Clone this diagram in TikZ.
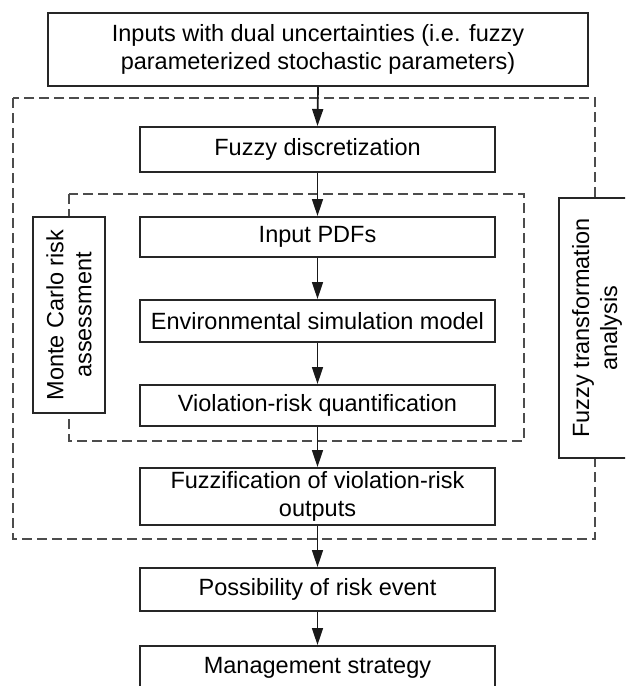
\documentclass[tikz,border=0pt]{standalone}
\usepackage{fontspec}
\setmainfont{Liberation Sans}
\usetikzlibrary{arrows.meta}
\begin{document}
\begin{tikzpicture}[x=1pt,y=-1pt,
  box/.style={draw=black!85,line width=2pt,fill=white,inner sep=0pt,align=center,
              minimum width=355,font=\fontsize{23.5}{28}\selectfont},
  sidebox/.style={draw=black!85,line width=2pt,fill=white,inner sep=0pt,align=center,
              rotate=90,font=\fontsize{23.5}{28}\selectfont},
  dashbox/.style={draw=black!70,line width=1.7pt,dash pattern=on 10pt off 5pt},
  arr/.style={line width=1.7pt,draw=black!90,-{Triangle[length=17pt,width=11pt]}}]
\useasboundingbox (0,0) rectangle (625,686);
\clip (0,0) rectangle (625,686);
% dashed groups
\draw[dashbox] (13,98) rectangle (595,539);
\draw[dashbox] (69,194) rectangle (524,441);
% main column
\node[box,minimum width=540,minimum height=73] (in) at (318,49.5)
  {Inputs with dual uncertainties (i.e. fuzzy\\parameterized stochastic parameters)};
\node[box,minimum height=45] (fd) at (317.5,149.5) {Fuzzy discretization};
\node[box,minimum height=40] (pdf) at (317.5,237) {Input PDFs};
\node[box,minimum height=42] (env) at (317.5,321) {Environmental simulation model};
\node[box,minimum height=41] (vio) at (317.5,405.5) {Violation-risk quantification};
\node[box,minimum height=57] (fuz) at (317.5,496.5) {Fuzzification of violation-risk\\outputs};
\node[box,minimum height=43] (pos) at (317.5,589.5) {Possibility of risk event};
\node[box,minimum height=44] (man) at (317.5,668) {Management strategy};
% side labels
\node[sidebox,minimum width=196,minimum height=72] (mc) at (69,315) {Monte Carlo risk\\assessment};
\node[sidebox,minimum width=260,minimum height=76] (fta) at (597,328) {Fuzzy transformation\\analysis};
% arrows
\draw[arr] (in.south) -- (fd.north);
\draw[arr] (fd.south) -- (pdf.north);
\draw[arr] (pdf.south) -- (env.north);
\draw[arr] (env.south) -- (vio.north);
\draw[arr] (vio.south) -- (fuz.north);
\draw[arr] (fuz.south) -- (pos.north);
\draw[arr] (pos.south) -- (man.north);
\end{tikzpicture}
\end{document}
